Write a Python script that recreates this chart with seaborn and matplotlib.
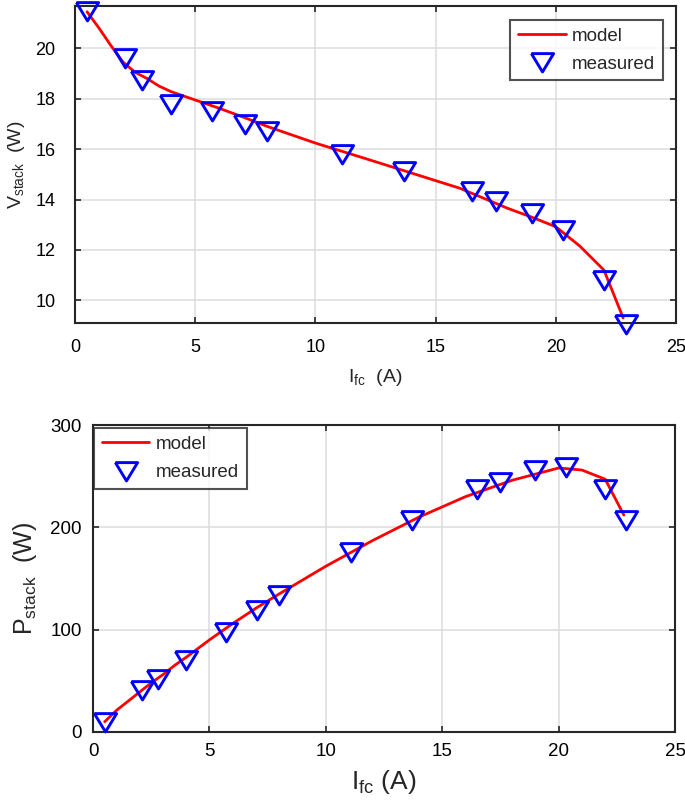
import numpy as np
import pandas as pd
import matplotlib
matplotlib.use('Agg')
import matplotlib.pyplot as plt
import seaborn as sns

# measured points
i_meas = [0.5, 2.1, 2.8, 4.0, 5.7, 7.05, 8.0, 11.1, 13.7, 16.5, 17.5, 19.0, 20.3, 22.0, 22.9]
v_meas = [21.5, 19.6, 18.75, 17.8, 17.5, 17.0, 16.7, 15.8, 15.15, 14.35, 13.95, 13.45, 12.8, 10.8, 9.05]
p_meas = [10, 41, 52, 70, 98, 119, 134, 176, 207, 237, 244, 256, 259, 237, 207]

# model curves
i_model = [0.5, 1.0, 1.5, 2.0, 2.5, 3.0, 3.5, 4.0, 5.0, 6.0, 7.0, 8.0, 10.0, 12.0, 14.0,
           16.0, 18.0, 19.0, 20.0, 21.0, 22.0, 22.8]
v_model = [21.45, 20.8, 20.1, 19.45, 19.05, 18.8, 18.5, 18.28, 17.95, 17.62, 17.27, 16.9, 16.24,
           15.65, 15.05, 14.45, 13.65, 13.3, 12.92, 12.15, 11.2, 9.3]
p_model = [10, 21, 30, 39, 48, 56, 65, 73, 90, 106, 121, 135, 162, 187, 210,
           230, 246, 252, 258, 256, 247, 212]

sns.set_style('white')
plt.rcParams['font.family'] = ['Liberation Sans', 'DejaVu Sans']
plt.rcParams['mathtext.fontset'] = 'custom'
plt.rcParams['mathtext.rm'] = 'Liberation Sans'
plt.rcParams['mathtext.default'] = 'regular'

tri = [(-1, 0.8), (1, 0.8), (0, -0.85), (-1, 0.8)]
dark = '#262626'

fig = plt.figure(figsize=(6.85, 8.1), dpi=100)
ax1 = fig.add_axes([0.1095, 0.6012, 0.8775, 0.3914])
ax2 = fig.add_axes([0.1358, 0.0963, 0.8497, 0.379])


def style_axes(ax, fs, xpad, ypad):
    ax.grid(True, color='#dcdcdc', linewidth=1.1)
    ax.set_axisbelow(True)
    for s in ax.spines.values():
        s.set_color(dark)
        s.set_linewidth(1.5)
        s.set_visible(True)
    ax.tick_params(direction='in', length=4.5, width=1.2, colors=dark,
                   labelcolor='black', labelsize=fs, top=True, right=True,
                   bottom=True, left=True)
    ax.tick_params(axis='x', pad=xpad)
    ax.tick_params(axis='y', pad=ypad)


def draw(ax, ym, ymeas, loc, anchor):
    df_m = pd.DataFrame({'I': i_model, 'y': ym})
    df_p = pd.DataFrame({'I': i_meas, 'y': ymeas})
    sns.lineplot(data=df_m, x='I', y='y', ax=ax, color='#ff0000', linewidth=2.0,
                 label='model', sort=False)
    sns.lineplot(data=df_p, x='I', y='y', ax=ax, linestyle='none', marker=tri,
                 markersize=16, markerfacecolor='none', markeredgecolor='#0000ff',
                 markeredgewidth=2.1, color='#0000ff', label='measured', sort=False,
                 clip_on=False, zorder=5)
    leg = ax.legend(loc=loc, bbox_to_anchor=anchor, fontsize=13.5, frameon=True,
                    fancybox=False, handlelength=2.55, handletextpad=0.35,
                    borderpad=0.4, labelspacing=0.6, borderaxespad=0)
    leg.get_frame().set_edgecolor(dark)
    leg.get_frame().set_linewidth(1.5)
    leg.set_zorder(10)


draw(ax1, v_model, v_meas, 'upper right', (0.978, 0.956))
ax1.set_xlim(0, 25)
ax1.set_ylim(9.1, 21.68)
ax1.set_xticks(np.arange(0, 26, 5))
ax1.set_yticks(np.arange(10, 21, 2))
style_axes(ax1, 13, 11.5, 14)
ax1.set_xlabel('I$_{fc}$  (A)', fontsize=14, labelpad=8)
ax1.set_ylabel('V$_{stack}$  (W)', fontsize=14, labelpad=6)

draw(ax2, p_model, p_meas, 'upper left', (0.002, 0.99))
ax2.set_xlim(0, 25)
ax2.set_ylim(0, 300)
ax2.set_xticks(np.arange(0, 26, 5))
ax2.set_yticks([0, 100, 200, 300])
style_axes(ax2, 13.5, 8, 8)
ax2.set_xlabel('I$_{fc}$ (A)', fontsize=19, labelpad=6)
ax2.set_ylabel('P$_{stack}$  (W)', fontsize=18, labelpad=8)

fig.savefig('out.png', dpi=100, facecolor='white')
